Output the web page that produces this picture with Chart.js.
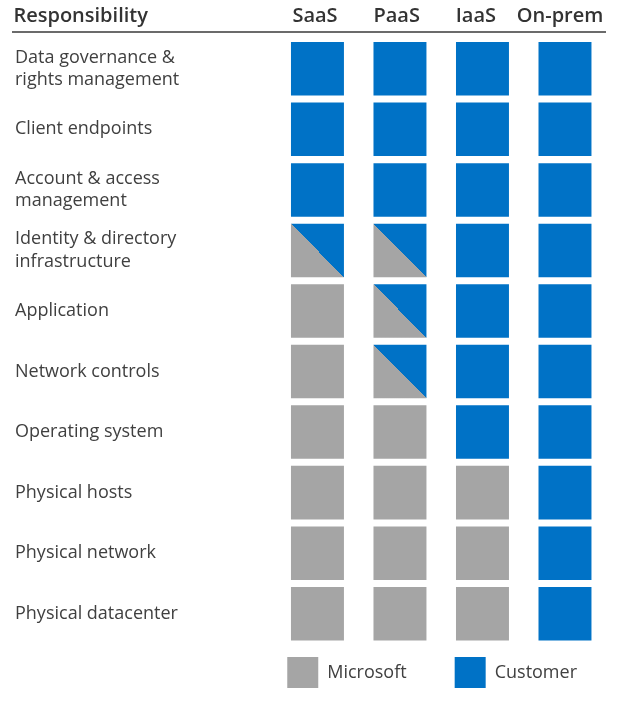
<!DOCTYPE html>
<html><head><meta charset="utf-8">
<script src="https://cdn.jsdelivr.net/npm/chart.js@4.4.1/dist/chart.umd.min.js"></script>
<style>html,body{margin:0;padding:0;background:#fff}canvas{display:block}</style>
</head><body>
<canvas id="c" width="636" height="702"></canvas>
<script>
// ---- data ----
const responsibilities = [
  ['Data governance &', 'rights management'],
  'Client endpoints',
  ['Account & access', 'management'],
  ['Identity & directory', 'infrastructure'],
  'Application',
  'Network controls',
  'Operating system',
  'Physical hosts',
  'Physical network',
  'Physical datacenter'
];
const models = ['SaaS', 'PaaS', 'IaaS', 'On-prem'];
const headerTitle = 'Responsibility';
// who is responsible: C = Customer, M = Microsoft, S = shared
const saas   = ['C','C','C','S','M','M','M','M','M','M'];
const paas   = ['C','C','C','S','S','S','M','M','M','M'];
const iaas   = ['C','C','C','C','C','C','C','M','M','M'];
const onprem = ['C','C','C','C','C','C','C','C','C','C'];
const owners = [saas, paas, iaas, onprem];
const legendNames = ['Microsoft', 'Customer', 'Shared'];

// ---- style ----
const BLUE = '#0072C6', GRAY = '#A5A5A5', TEXT = '#404040', HEAD = '#333333';
const HALF_W = 0.321;      // half cell width in column units
const BAR_FRAC = 0.884;    // cell height as fraction of row pitch
const HEADER_POS = [-2.87, -0.03, 0.96, 1.92, 2.94];
const headerLabels = [headerTitle].concat(models);

function cells(code) {
  const out = [];
  owners.forEach((col, c) => col.forEach((o, r) => {
    if (o === code) out.push({ x: [c - HALF_W, c + HALF_W], y: r });
  }));
  return out;
}

function sharedFill(ctx) {
  if (ctx.type !== 'data' || !ctx.raw) return GRAY;
  const { x, y } = ctx.chart.scales;
  if (!x || !y) return GRAY;
  const x0 = x.getPixelForValue(ctx.raw.x[0]), x1 = x.getPixelForValue(ctx.raw.x[1]);
  const yc = y.getPixelForValue(ctx.raw.y);
  const h = Math.abs(y.getPixelForValue(ctx.raw.y + 1) - yc) * BAR_FRAC;
  const w = x1 - x0, cx = (x0 + x1) / 2;
  if (![x0, x1, yc, h].every(Number.isFinite) || w <= 0 || h <= 0) return GRAY;
  const g = ctx.chart.ctx.createLinearGradient(cx - h / 2, yc + w / 2, cx + h / 2, yc - w / 2);
  g.addColorStop(0, GRAY); g.addColorStop(0.5, GRAY);
  g.addColorStop(0.5, BLUE); g.addColorStop(1, BLUE);
  return g;
}

Chart.defaults.font.family = '"Open Sans", sans-serif';
Chart.defaults.color = TEXT;

const common = { borderWidth: 0, grouped: false, clip: false, barPercentage: BAR_FRAC, categoryPercentage: 1 };

new Chart(document.getElementById('c'), {
  type: 'bar',
  data: {
    datasets: [
      Object.assign({ label: legendNames[0], data: cells('M'), backgroundColor: GRAY }, common),
      Object.assign({ label: legendNames[1], data: cells('C'), backgroundColor: BLUE }, common),
      Object.assign({ label: legendNames[2], data: cells('S'), backgroundColor: sharedFill }, common)
    ]
  },
  options: {
    responsive: false,
    animation: false,
    indexAxis: 'y',
    layout: { padding: { top: 0, left: 13, right: 11, bottom: 4 } },
    scales: {
      x: {
        type: 'linear', position: 'top', min: -3.69, max: 3.485, offset: false,
        grid: { display: false, drawTicks: false },
        border: { display: true, color: '#6b6b6b', width: 2 },
        afterBuildTicks: s => { s.ticks = HEADER_POS.map(v => ({ value: v })); },
        ticks: {
          autoSkip: false, maxRotation: 0, padding: 4, color: HEAD,
          font: { size: 20, weight: '600' },
          callback: (v, i) => headerLabels[i]
        }
      },
      y: {
        type: 'linear', position: 'left', reverse: true, min: -0.6078, max: 8.922,
        offset: false,
        grid: { display: false, drawTicks: false, offset: false },
        border: { display: false },
        afterBuildTicks: s => { s.ticks = responsibilities.map((_, i) => ({ value: i })); },
        afterFit: s => { s.width = 0; },
        ticks: {
          mirror: true, padding: 2, autoSkip: false, color: TEXT,
          font: { size: 18, lineHeight: 1.26 },
          callback: (v, i) => responsibilities[i]
        }
      },
      yRight: {
        type: 'linear', position: 'right', display: true,
        grid: { display: false, drawTicks: false },
        border: { display: false },
        ticks: { display: false },
        afterFit: s => { s.width = 20; }
      }
    },
    plugins: {
      tooltip: { enabled: false },
      title: { display: false },
      legend: {
        position: 'bottom', align: 'end',
        labels: {
          boxWidth: 31, boxHeight: 31, padding: 48, color: TEXT,
          font: { size: 18 },
          filter: item => item.datasetIndex < 2
        }
      }
    }
  }
});
</script>
</body></html>
